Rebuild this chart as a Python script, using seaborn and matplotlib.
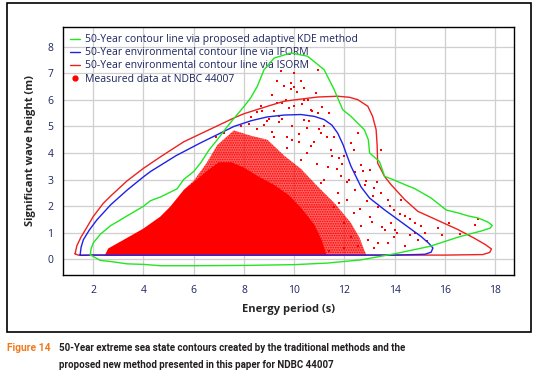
import matplotlib.pyplot as plt
import seaborn as sns
from matplotlib.lines import Line2D
from matplotlib.patches import Rectangle

sns.set_style("whitegrid")
plt.rcParams['font.family'] = ['Open Sans', 'DejaVu Sans']
plt.rcParams['hatch.linewidth'] = 0.8

# 50-year contours (energy period Te in s, significant wave height Hs in m)
kde_te = [1.88, 1.92, 2.01, 2.3, 2.68, 3.3, 4.0, 4.28, 4.7, 5.34, 5.6, 6.0, 6.27, 6.6, 6.94, 7.34,
          7.6, 8.0, 8.27, 8.53, 8.8, 9.2, 9.87, 10.53, 11.19, 11.59, 11.93, 12.26, 12.79, 12.95,
          13.0, 13.39, 13.6, 14.0, 14.52, 14.79, 15.45, 15.85, 16.05, 16.52, 16.91, 17.31, 17.7,
          17.88, 17.8, 17.45, 16.6, 15.4, 14.0, 12.66, 11.33, 10.0, 8.0, 6.0, 4.67, 4.0, 3.35,
          2.68, 2.28, 2.0, 1.88]
kde_hs = [0.16, 0.4, 0.62, 0.95, 1.25, 1.6, 1.99, 2.2, 2.35, 2.65, 3.0, 3.3, 3.62, 4.1, 4.5, 5.0,
          5.3, 5.75, 6.08, 6.51, 7.14, 7.58, 7.77, 7.65, 7.14, 6.39, 5.63, 5.38, 4.88, 4.5,
          4.0, 3.68, 3.12, 2.97, 2.76, 2.66, 2.3, 2.0, 1.85, 1.74, 1.63, 1.55, 1.4,
          1.27, 1.17, 1.06, 0.85, 0.48, 0.2, -0.03, -0.15, -0.21, -0.24, -0.25, -0.25, -0.2, -0.18,
          -0.09, -0.05, 0.1, 0.16]

iform_te = [1.48, 1.52, 1.61, 1.85, 2.15, 2.7, 3.35, 4.0, 4.28, 5.3, 6.27, 7.0, 7.6, 8.3, 8.93,
            9.6, 10.27, 10.8, 11.19, 11.5, 11.73, 11.95, 12.1, 12.26, 12.66, 13.0, 13.59, 14.4,
            15.05, 15.35, 15.52, 15.45, 15.2, 14.0, 10.0, 6.0, 2.0, 1.5, 1.48]
iform_hs = [0.15, 0.45, 0.73, 1.1, 1.48, 2.05, 2.6, 3.1, 3.3, 3.9, 4.38, 4.72, 5.0, 5.22, 5.36,
            5.43, 5.45, 5.38, 5.26, 5.05, 4.75, 4.3, 3.9, 3.5, 2.72, 2.3, 1.86, 1.3,
            0.85, 0.6, 0.42, 0.26, 0.18, 0.15, 0.15, 0.15, 0.15, 0.14, 0.15]

isorm_te = [1.28, 1.35, 1.5, 1.75, 2.0, 2.4, 2.7, 3.35, 4.0, 4.67, 5.6, 6.0, 7.0, 7.6, 8.0, 9.0,
            9.6, 10.0, 10.93, 11.73, 12.2, 12.53, 12.93, 13.12, 13.26, 13.3, 13.32, 13.46, 13.59,
            13.86, 14.4, 14.92, 15.85, 16.5, 17.18, 17.6, 17.85, 17.78, 17.5, 16.0, 12.0, 8.0,
            4.0, 2.0, 1.4, 1.28]
isorm_hs = [0.2, 0.5, 0.8, 1.2, 1.6, 2.1, 2.38, 2.95, 3.42, 3.85, 4.42, 4.6, 5.05, 5.32, 5.48, 5.78,
            5.95, 6.0, 6.11, 6.14, 6.1, 6.01, 5.76, 5.38, 4.88, 4.3, 3.62, 3.37, 3.12,
            2.8, 2.24, 1.8, 1.4, 1.12, 0.78, 0.55, 0.38, 0.25, 0.17, 0.15, 0.15, 0.15,
            0.15, 0.15, 0.15, 0.2]

# measured data: saturated core, dense speckled halo, sparse outliers
core_te = [2.45, 2.6, 3.35, 4.0, 4.67, 5.07, 5.6, 6.0, 6.5, 7.0, 7.5, 8.0, 8.6, 9.2,
           9.8, 10.3, 10.8, 11.1, 11.3]
core_hs = [0.12, 0.4, 0.8, 1.15, 1.6, 1.98, 2.6, 2.9, 3.3, 3.65, 3.65, 3.45, 3.1, 2.8,
           2.4, 1.9, 1.3, 0.7, 0.12]
halo_te = [5.6, 6.0, 6.5, 6.94, 7.6, 8.27, 8.93, 9.6, 10.27, 10.93, 11.6, 12.26, 12.6, 12.8,
           12.9, 11.3]
halo_hs = [2.6, 2.95, 3.6, 4.3, 4.85, 4.65, 4.5, 3.9, 3.4, 2.74, 2.11, 1.36, 0.8, 0.3,
           0.12, 0.12]
pts_te = [9.6, 10.0, 9.87, 10.4, 9.33, 10.53, 8.67, 10.93, 11.19, 9.47, 9.87, 10.27, 10.93, 10.86,
          9.66, 10.4, 10.0, 10.66, 7.2, 7.9, 8.2, 6.9, 8.5, 8.8, 9.1, 9.4, 9.7, 9.9, 10.2, 10.5,
          10.8, 9.0, 8.3, 8.5, 9.2, 9.8, 10.3, 10.7, 11.1, 11.4, 9.5, 10.4, 11.06, 10.66, 11.46,
          10.27, 11.33, 11.86, 11.06, 11.73, 12.12, 11.59, 12.39, 11.99, 12.66, 12.26, 12.93,
          12.53, 13.19, 12.39, 12.26, 12.66, 12.73, 13.0, 12.86, 13.19, 13.12, 13.46, 13.72,
          13.32, 13.99, 14.26, 14.39, 13.86, 14.79, 15.05, 13.99, 13.32, 13.72, 14.39, 14.92,
          15.72, 16.18, 17.18, 17.31, 12.53, 13.46, 9.1, 10.1, 11.6, 12.0, 12.1, 13.6, 14.1,
          14.6, 13.0, 12.2, 11.8, 10.0, 9.3,
          8.9, 9.5, 10.6, 11.0, 11.3, 10.2, 9.7, 11.5, 11.9, 12.4, 12.8, 13.3, 13.8, 14.2, 14.6,
          15.2, 13.5, 12.9, 12.4, 11.7, 11.2, 10.9, 9.2, 9.9, 10.5, 11.8, 12.6, 13.1, 14.0, 14.8,
          15.3, 15.9, 16.6, 12.0, 11.4, 10.8, 10.1, 8.7, 9.4]
pts_hs = [6.51, 7.02, 6.42, 6.46, 5.89, 6.01, 5.76, 5.51, 5.0, 7.08, 6.64, 6.7, 7.14, 6.26,
          6.01, 6.01, 5.76, 5.63, 4.75, 5.0, 5.1, 4.6, 4.9, 5.05, 4.8, 5.15, 4.6, 5.0, 4.7, 4.95,
          4.4, 5.3, 5.35, 5.55, 5.6, 5.7, 5.85, 5.6, 5.75, 5.5, 5.9, 5.26, 4.75, 4.25, 4.12,
          3.75, 3.49, 3.12, 2.87, 2.49, 2.24, 1.98, 1.74, 1.36, 1.23, 0.85, 0.73,
          0.48, 0.42, 4.12, 4.37, 3.56, 3.31, 3.37, 2.93, 2.68, 2.36, 2.49, 2.24,
          1.98, 1.86, 2.24, 1.61, 1.36, 1.36, 1.23, 0.85, 0.6, 0.6, 0.48, 0.73,
          1.17, 1.36, 1.29, 1.51, 4.75, 4.12, 6.2, 6.3, 4.6, 3.9, 2.9, 1.1, 1.0,
          0.9, 1.6, 3.0, 3.8, 6.5, 6.7,
          5.2, 5.3, 5.2, 4.9, 4.6, 4.4, 4.2, 3.9, 3.6, 3.3, 2.8, 2.9, 2.0, 1.7, 1.5,
          1.0, 1.2, 2.2, 2.6, 3.4, 3.0, 3.6, 4.6, 4.5, 4.0, 2.1, 1.9, 1.4, 1.1, 1.0,
          0.7, 0.9, 0.95, 0.4, 0.3, 0.35, 0.4, 5.6, 5.4]

fig = plt.figure(figsize=(5.4, 3.75), dpi=100)
ax = fig.add_axes([0.1167, 0.2667, 0.8353, 0.6613])

ax.fill(halo_te, halo_hs, facecolor=(1, 0, 0, 0.6), edgecolor='#ff0000', hatch='.......', lw=0, zorder=2)
ax.fill(core_te, core_hs, color='#ff0000', lw=0, zorder=2)
sns.scatterplot(x=pts_te, y=pts_hs, marker='s', s=2, color='#ff0000', linewidth=0, ax=ax, zorder=3)

sns.lineplot(x=isorm_te, y=isorm_hs, sort=False, estimator=None, color='#ee2020', lw=1, ax=ax, zorder=4)
sns.lineplot(x=iform_te, y=iform_hs, sort=False, estimator=None, color='#2020e8', lw=1, ax=ax, zorder=5)
sns.lineplot(x=kde_te, y=kde_hs, sort=False, estimator=None, color='#22e622', lw=1, ax=ax, zorder=6)

ax.set_xlim(0.8, 18.75)
ax.set_ylim(-0.6, 8.75)
ax.set_xticks([2, 4, 6, 8, 10, 12, 14, 16, 18])
ax.set_yticks([0, 1, 2, 3, 4, 5, 6, 7, 8])
ax.grid(color='#cfcfcf', lw=0.9)
for s in ax.spines.values():
    s.set_color('black')
    s.set_linewidth(1)
ax.tick_params(axis='both', which='both', direction='out', length=4, width=0.8,
               color='black', labelsize=7.5, labelcolor='#1c2560', pad=3)
ax.set_xlabel("Energy period (s)", fontsize=8, fontweight='bold', labelpad=6)
ax.set_ylabel("Significant wave height (m)", fontsize=8, fontweight='bold', labelpad=8)

handles = [
    Line2D([], [], color='#22e622', lw=1),
    Line2D([], [], color='#2020e8', lw=1),
    Line2D([], [], color='#ee2020', lw=1),
    Line2D([], [], color='#ff0000', marker='o', ls='none', markersize=3.5),
]
labels = ["50-Year contour line via proposed adaptive KDE method",
          "50-Year environmental contour line via IFORM",
          "50-Year environmental contour line via ISORM",
          "Measured data at NDBC 44007"]
ax.legend(handles, labels, loc='upper left', frameon=False, fontsize=7.5, handlelength=0.9,
          handletextpad=0.5, labelspacing=0.2, borderaxespad=0.3, labelcolor='#1c2560')

fig.patches.append(Rectangle((0.013, 0.115), 0.970, 0.877, transform=fig.transFigure,
                             fill=False, edgecolor='black', lw=1.2))

cap_font = ['Roboto', 'DejaVu Sans']
fig.text(0.013, 0.073, "Figure 14", color='#f07b1e', fontsize=7.4, fontweight='bold',
         family=cap_font, va='center')
fig.text(0.110, 0.073, "50-Year extreme sea state contours created by the traditional methods and the",
         color='#231f20', fontsize=7.0, fontweight='bold', family=cap_font, va='center')
fig.text(0.110, 0.028, "proposed new method presented in this paper for NDBC 44007",
         color='#231f20', fontsize=7.0, fontweight='bold', family=cap_font, va='center')

fig.savefig("out.png", dpi=100)
